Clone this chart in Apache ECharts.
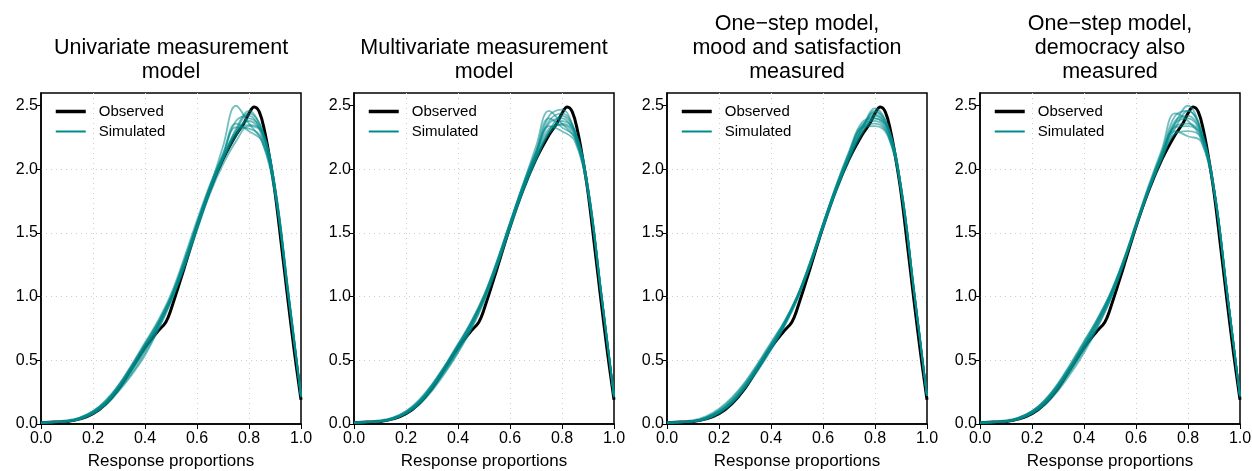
<!DOCTYPE html>
<html>
<head>
<meta charset="utf-8">
<script src="https://cdn.jsdelivr.net/npm/echarts@6/dist/echarts.min.js"></script>
<style>
  html, body { margin: 0; padding: 0; background: #fff; }
  #main { width: 1252px; height: 471px; }
</style>
</head>
<body>
<div id="main"></div>
<script>
  // panel titles
  const panelTitles = [
    'Univariate measurement\nmodel',
    'Multivariate measurement\nmodel',
    'One\u2212step model,\nmood and satisfaction\nmeasured',
    'One\u2212step model,\ndemocracy also\nmeasured'
  ]
  const xTicks = [0, 0.2, 0.4, 0.6, 0.8, 1.0]
  const yTicks = [0, 0.5, 1.0, 1.5, 2.0, 2.5]

  // observed density (same in every panel)
  const xObs = [0, 0.05, 0.1, 0.15, 0.2, 0.25, 0.3, 0.35, 0.4, 0.45, 0.48, 0.5, 0.55, 0.6, 0.65, 0.7, 0.75, 0.78, 0.8, 0.82, 0.84, 0.86, 0.88, 0.9, 0.925, 0.95, 0.975, 1.0]
  const observed = [0.01, 0.015, 0.02, 0.04, 0.08, 0.16, 0.28, 0.44, 0.6, 0.73, 0.8, 0.9, 1.22, 1.55, 1.84, 2.08, 2.27, 2.36, 2.44, 2.49, 2.45, 2.3, 2.08, 1.82, 1.4, 0.97, 0.56, 0.19]

  // simulated densities, x positions shared
  const xSim = [0, 0.1, 0.15, 0.2, 0.25, 0.3, 0.35, 0.4, 0.45, 0.5, 0.55, 0.6, 0.65, 0.7, 0.75, 0.8, 0.85, 0.9, 0.95, 1.0]

  const simUnivariate = [
    [0.01,0.02,0.04,0.09,0.17,0.29,0.44,0.61,0.78,0.99,1.26,1.56,1.85,2.1,2.3,2.38,2.28,1.84,1.04,0.22],
    [0.01,0.02,0.05,0.1,0.18,0.3,0.46,0.63,0.8,1.0,1.27,1.56,1.86,2.18,2.5,2.36,2.22,1.8,1.02,0.21],
    [0.01,0.02,0.04,0.08,0.15,0.26,0.39,0.54,0.74,0.97,1.25,1.55,1.84,2.08,2.3,2.44,2.32,1.86,1.06,0.23],
    [0.01,0.02,0.04,0.09,0.17,0.3,0.45,0.62,0.79,1.0,1.28,1.58,1.86,2.1,2.33,2.32,2.24,1.82,1.03,0.22],
    [0.01,0.03,0.05,0.1,0.18,0.31,0.46,0.62,0.78,0.97,1.22,1.52,1.82,2.08,2.26,2.4,2.31,1.87,1.06,0.23],
    [0.01,0.02,0.04,0.08,0.16,0.28,0.42,0.58,0.76,0.98,1.26,1.57,1.87,2.12,2.36,2.3,2.22,1.82,1.02,0.21],
    [0.01,0.02,0.04,0.09,0.17,0.29,0.43,0.59,0.77,0.99,1.24,1.53,1.81,2.04,2.22,2.34,2.29,1.85,1.05,0.22],
    [0.01,0.02,0.05,0.1,0.19,0.31,0.47,0.64,0.81,1.02,1.3,1.6,1.88,2.12,2.38,2.42,2.26,1.83,1.03,0.22],
    [0.01,0.02,0.04,0.08,0.16,0.27,0.4,0.56,0.74,0.96,1.23,1.54,1.84,2.09,2.28,2.35,2.3,1.86,1.05,0.22],
    [0.01,0.02,0.04,0.09,0.17,0.29,0.44,0.6,0.77,0.98,1.25,1.55,1.84,2.08,2.32,2.46,2.3,1.85,1.04,0.22]
  ]
  const simMultivariate = [
    [0.01,0.02,0.04,0.09,0.17,0.29,0.44,0.6,0.78,1.0,1.27,1.57,1.86,2.12,2.36,2.4,2.27,1.84,1.04,0.22],
    [0.01,0.02,0.04,0.09,0.17,0.3,0.45,0.62,0.8,1.01,1.28,1.58,1.88,2.18,2.46,2.36,2.24,1.82,1.03,0.21],
    [0.01,0.02,0.04,0.08,0.16,0.27,0.41,0.57,0.75,0.97,1.24,1.54,1.83,2.08,2.3,2.42,2.3,1.86,1.05,0.22],
    [0.01,0.02,0.05,0.1,0.18,0.31,0.46,0.62,0.79,0.99,1.25,1.55,1.85,2.11,2.32,2.35,2.26,1.84,1.04,0.22],
    [0.01,0.02,0.04,0.09,0.17,0.29,0.43,0.59,0.77,0.99,1.27,1.58,1.88,2.14,2.38,2.44,2.3,1.85,1.05,0.22],
    [0.01,0.02,0.04,0.08,0.15,0.26,0.4,0.56,0.74,0.96,1.23,1.53,1.82,2.07,2.28,2.36,2.29,1.86,1.05,0.23],
    [0.01,0.03,0.05,0.1,0.19,0.31,0.46,0.63,0.8,1.01,1.28,1.58,1.87,2.12,2.34,2.3,2.22,1.81,1.02,0.21],
    [0.01,0.02,0.04,0.09,0.17,0.29,0.44,0.61,0.78,0.99,1.26,1.56,1.86,2.13,2.42,2.47,2.28,1.84,1.04,0.22],
    [0.01,0.02,0.04,0.09,0.16,0.28,0.42,0.58,0.76,0.98,1.25,1.55,1.84,2.09,2.3,2.38,2.3,1.86,1.05,0.22],
    [0.01,0.02,0.04,0.09,0.18,0.3,0.45,0.61,0.78,0.99,1.26,1.57,1.87,2.14,2.4,2.33,2.25,1.83,1.03,0.22]
  ]
  const simMood = [
    [0.01,0.02,0.05,0.1,0.18,0.3,0.45,0.61,0.78,0.99,1.25,1.55,1.84,2.1,2.3,2.42,2.32,1.86,1.05,0.22],
    [0.01,0.02,0.05,0.11,0.2,0.32,0.47,0.63,0.8,1.0,1.26,1.56,1.85,2.1,2.32,2.45,2.33,1.87,1.05,0.22],
    [0.01,0.02,0.04,0.09,0.17,0.29,0.44,0.6,0.78,0.99,1.27,1.57,1.87,2.13,2.35,2.38,2.28,1.84,1.04,0.22],
    [0.01,0.02,0.04,0.08,0.16,0.28,0.42,0.58,0.76,0.97,1.24,1.54,1.83,2.09,2.31,2.46,2.34,1.87,1.06,0.22],
    [0.01,0.02,0.05,0.1,0.19,0.31,0.46,0.62,0.79,1.0,1.26,1.56,1.85,2.11,2.33,2.36,2.27,1.84,1.04,0.22],
    [0.01,0.02,0.04,0.09,0.17,0.29,0.43,0.59,0.77,0.98,1.25,1.56,1.86,2.12,2.34,2.43,2.31,1.86,1.05,0.22],
    [0.01,0.03,0.06,0.12,0.21,0.33,0.48,0.64,0.8,0.99,1.24,1.53,1.82,2.07,2.28,2.4,2.32,1.87,1.06,0.23],
    [0.01,0.02,0.04,0.09,0.17,0.3,0.45,0.61,0.78,0.99,1.26,1.57,1.87,2.14,2.37,2.4,2.29,1.85,1.04,0.22],
    [0.01,0.02,0.05,0.1,0.18,0.3,0.44,0.6,0.77,0.98,1.25,1.55,1.84,2.1,2.32,2.48,2.33,1.86,1.05,0.22],
    [0.01,0.02,0.04,0.09,0.17,0.29,0.44,0.6,0.78,1.0,1.27,1.57,1.86,2.11,2.33,2.34,2.26,1.83,1.03,0.22]
  ]
  const simDemocracy = [
    [0.01,0.02,0.04,0.09,0.17,0.29,0.44,0.61,0.79,1.0,1.27,1.57,1.87,2.13,2.36,2.4,2.28,1.85,1.04,0.22],
    [0.01,0.02,0.05,0.1,0.18,0.31,0.47,0.64,0.82,1.02,1.28,1.58,1.88,2.16,2.44,2.38,2.24,1.82,1.03,0.21],
    [0.01,0.02,0.04,0.08,0.16,0.28,0.42,0.58,0.76,0.97,1.24,1.54,1.83,2.08,2.28,2.3,2.25,1.84,1.04,0.22],
    [0.01,0.02,0.04,0.09,0.17,0.3,0.45,0.62,0.8,1.01,1.27,1.56,1.85,2.1,2.32,2.46,2.32,1.86,1.05,0.22],
    [0.01,0.02,0.05,0.1,0.19,0.32,0.48,0.65,0.82,1.02,1.27,1.56,1.85,2.11,2.34,2.36,2.27,1.84,1.04,0.22],
    [0.01,0.02,0.04,0.09,0.16,0.28,0.43,0.59,0.77,0.98,1.25,1.55,1.85,2.12,2.38,2.42,2.29,1.85,1.05,0.22],
    [0.01,0.02,0.04,0.08,0.15,0.26,0.4,0.56,0.75,0.97,1.25,1.56,1.86,2.11,2.3,2.26,2.22,1.83,1.04,0.22],
    [0.01,0.02,0.05,0.1,0.18,0.3,0.45,0.62,0.8,1.0,1.26,1.56,1.86,2.14,2.42,2.46,2.3,1.85,1.04,0.22],
    [0.01,0.02,0.04,0.09,0.17,0.29,0.44,0.6,0.78,0.99,1.26,1.56,1.85,2.1,2.33,2.34,2.27,1.85,1.05,0.22],
    [0.01,0.03,0.05,0.1,0.19,0.31,0.46,0.63,0.8,1.0,1.26,1.55,1.84,2.1,2.36,2.5,2.3,1.84,1.04,0.22]
  ]
  const simulated = [simUnivariate, simMultivariate, simMood, simDemocracy]

  const font = 'Liberation Sans, Arial, Helvetica, sans-serif'
  const teal = '#008b8b'
  const panelW = 313

  let myChart = echarts.init(document.getElementById('main'))

  let grids = [], xAxes = [], yAxes = [], titles = [], legends = [], series = []
  panelTitles.forEach((t, k) => {
    let off = panelW * k
    let nLines = t.split('\n').length
    grids.push({
      left: 41 + off, top: 93, width: 260, height: 331, outerBoundsMode: 'none',
      show: true, borderColor: '#000', borderWidth: 1.5, backgroundColor: 'transparent'
    })
    titles.push({
      text: t, left: 171 + off, top: nLines === 3 ? 12 : 36, textAlign: 'center', padding: 0,
      textStyle: { fontFamily: font, fontSize: 21.5, lineHeight: 24, fontWeight: 'normal', color: '#000' }
    })
    xAxes.push({
      gridIndex: k, type: 'value', min: 0, max: 1, interval: 0.2,
      name: 'Response proportions', nameLocation: 'middle', nameGap: 29,
      nameTextStyle: { fontFamily: font, fontSize: 17, color: '#000' },
      axisLine: { show: true, lineStyle: { color: '#000', width: 1.5 } },
      axisTick: { show: true, length: 5, lineStyle: { color: '#000', width: 1 } },
      axisLabel: { fontFamily: font, fontSize: 16, color: '#000', margin: 7, formatter: v => v.toFixed(1) },
      splitLine: { show: true, showMinLine: false, showMaxLine: false, lineStyle: { color: '#cccccc', width: 1, type: [1, 4] } }
    })
    yAxes.push({
      gridIndex: k, type: 'value', min: 0, max: 2.6, interval: 0.5,
      axisLine: { show: true, lineStyle: { color: '#000', width: 1.5 } },
      axisTick: { show: true, length: 5, customValues: yTicks, lineStyle: { color: '#000', width: 1 } },
      axisLabel: { fontFamily: font, fontSize: 16, color: '#000', margin: 3, customValues: yTicks, formatter: v => v.toFixed(1) },
      splitLine: { show: true, showMinLine: false, showMaxLine: false, lineStyle: { color: '#cccccc', width: 1, type: [1, 4] } }
    })
    legends.push({
      orient: 'vertical', left: 54 + off, top: 104, itemWidth: 30, itemHeight: 14, itemGap: 5,
      padding: 0, selectedMode: false,
      textStyle: { fontFamily: font, fontSize: 15, color: '#000', padding: [0, 0, 0, 8] },
      data: [
        { name: 'Observed', itemStyle: { opacity: 0 }, lineStyle: { color: '#000', width: 3.5, opacity: 1 } },
        { name: 'Simulated', itemStyle: { opacity: 0 }, lineStyle: { color: teal, width: 2, opacity: 1 } }
      ]
    })
    // observed first, simulated drawn over it
    series.push({
      type: 'line', name: 'Observed', xAxisIndex: k, yAxisIndex: k,
      data: xObs.map((x, i) => [x, observed[i]]),
      smooth: 0.4, symbol: 'none', silent: true, z: 2,
      lineStyle: { color: '#000', width: 3 },
      itemStyle: { color: '#000' }
    })
    simulated[k].forEach(curve => {
      series.push({
        type: 'line', name: 'Simulated', xAxisIndex: k, yAxisIndex: k,
        data: xSim.map((x, i) => [x, curve[i]]),
        smooth: 0.4, symbol: 'none', silent: true, z: 3,
        lineStyle: { color: teal, width: 1.8, opacity: 0.55 },
        itemStyle: { color: teal }
      })
    })
  })

  myChart.setOption({
    animation: false,
    title: titles,
    legend: legends,
    grid: grids,
    xAxis: xAxes,
    yAxis: yAxes,
    series: series
  })
</script>
</body>
</html>
